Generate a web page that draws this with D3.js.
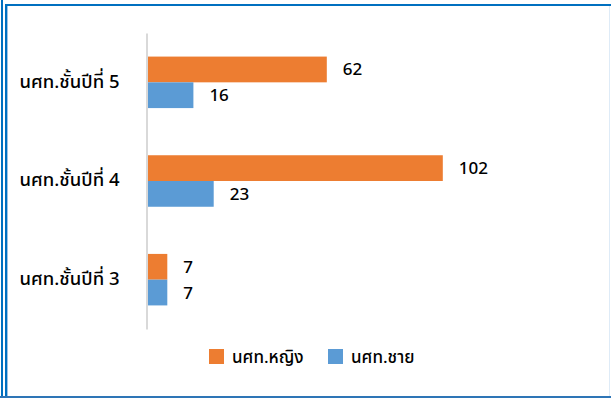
<!DOCTYPE html>
<html>
<head>
<meta charset="utf-8">
<script src="https://cdn.jsdelivr.net/npm/d3@7"></script>
<style>
  html, body { margin: 0; padding: 0; background: #fff; }
  svg { display: block; }
  text { font-family: Tahoma, "Noto Sans Thai", "Noto Sans", "DejaVu Sans", sans-serif; fill: #000; }
</style>
</head>
<body>
<svg id="chart" width="611" height="398"></svg>
<script>
// Student counts per year level
const categories = ["นศท.ชั้นปีที่ 5", "นศท.ชั้นปีที่ 4", "นศท.ชั้นปีที่ 3"];
const seriesNames = ["นศท.หญิง", "นศท.ชาย"];
const femaleValues = [62, 102, 7];
const maleValues = [16, 23, 7];
const seriesColors = ["#ED7D31", "#5B9BD5"];

const W = 611, H = 398;
const svg = d3.select("#chart");

// frame lines
const frame = svg.append("g");
frame.append("rect").attr("x", 1).attr("y", 0).attr("width", 2).attr("height", H).attr("fill", "#0070C0");
frame.append("rect").attr("x", 5).attr("y", 4).attr("width", 2).attr("height", H - 4).attr("fill", "#0070C0");
frame.append("rect").attr("x", 7).attr("y", 6).attr("width", 1).attr("height", H - 8).attr("fill", "#9DC3E6");
frame.append("rect").attr("x", 5).attr("y", 4).attr("width", W - 5).attr("height", 2).attr("fill", "#0070C0");
frame.append("rect").attr("x", 0).attr("y", 396).attr("width", W).attr("height", 2).attr("fill", "#2E75B6");
frame.append("rect").attr("x", 609).attr("y", 6).attr("width", 1).attr("height", 390).attr("fill", "#DEEBF7");

const plot = { left: 147, top: 33, bottom: 329 };

const x = d3.scaleLinear().domain([0, 120]).range([plot.left, plot.left + 348]);
const y = d3.scaleBand().domain(categories).range([plot.top, plot.bottom]).paddingInner(0.478).paddingOuter(0.239);
const sub = d3.scaleBand().domain(seriesNames).range([0, y.bandwidth()]);

const rows = categories.map((c, i) => ({ cat: c, vals: [femaleValues[i], maleValues[i]] }));

const groups = svg.append("g").selectAll("g").data(rows).join("g")
  .attr("transform", d => `translate(0,${y(d.cat)})`);

groups.selectAll("rect").data(d => d.vals.map((v, j) => ({ v, s: seriesNames[j], j })))
  .join("rect")
  .attr("x", x(0))
  .attr("y", d => sub(d.s))
  .attr("width", d => x(d.v) - x(0))
  .attr("height", sub.bandwidth())
  .attr("fill", d => seriesColors[d.j]);

groups.selectAll("text.val").data(d => d.vals.map((v, j) => ({ v, s: seriesNames[j] })))
  .join("text")
  .attr("class", "val")
  .attr("x", d => x(d.v) + 16)
  .attr("y", d => sub(d.s) + sub.bandwidth() / 2 + 6)
  .attr("font-size", 17).attr("font-weight", 500)
  .text(d => d.v);

// category axis
const yAxis = svg.append("g").attr("transform", `translate(${plot.left - 0.5},0)`)
  .call(d3.axisLeft(y).tickSize(0).tickPadding(27));
yAxis.select(".domain").attr("stroke", "#D9D9D9").attr("stroke-width", 2);
yAxis.selectAll(".tick text").attr("font-size", 18.5).attr("font-weight", 500).attr("fill", "#000")
  .attr("dy", "0.28em")
  .style("font-family", 'Tahoma, "Noto Sans Thai", "Noto Sans", sans-serif');

// legend
const legendItems = [{ name: seriesNames[0], color: seriesColors[0], x: 209 }, { name: seriesNames[1], color: seriesColors[1], x: 328 }];
const legend = svg.append("g");
legend.selectAll("rect").data(legendItems).join("rect")
  .attr("x", d => d.x).attr("y", 349).attr("width", 15).attr("height", 15)
  .attr("fill", d => d.color);
legend.selectAll("text").data(legendItems).join("text")
  .attr("x", d => d.x + 23).attr("y", 363)
  .attr("font-size", 17).attr("font-weight", 500)
  .text(d => d.name);
</script>
</body>
</html>
